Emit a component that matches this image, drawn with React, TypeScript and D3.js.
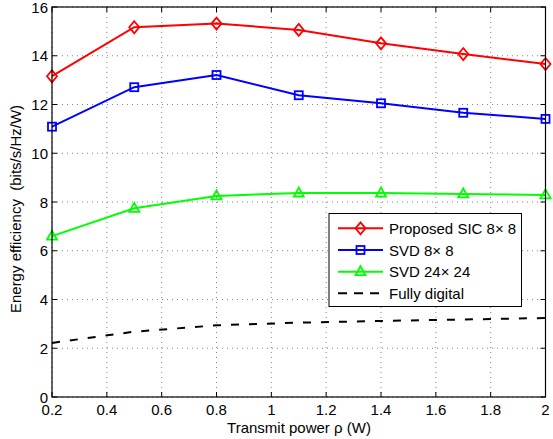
import React from "react";
import * as d3 from "d3";

const xValues = [0.2, 0.5, 0.8, 1.1, 1.4, 1.7, 2.0];
const proposedSIC = [13.16, 15.17, 15.32, 15.06, 14.51, 14.07, 13.66];
const svd8 = [11.09, 12.71, 13.21, 12.38, 12.05, 11.66, 11.41];
const svd24 = [6.6, 7.74, 8.25, 8.37, 8.37, 8.33, 8.29];
const fullyDigital = [2.22, 2.68, 2.94, 3.05, 3.12, 3.18, 3.24];
const xTicks = [0.2, 0.4, 0.6, 0.8, 1, 1.2, 1.4, 1.6, 1.8, 2];
const yTicks = [0, 2, 4, 6, 8, 10, 12, 14, 16];
const legendLabels = ["Proposed SIC 8\u00d7 8", "SVD 8\u00d7 8", "SVD 24\u00d7 24", "Fully digital"];

const W = 553, H = 439;
const L = 52, R = 545.5, T = 7, B = 397;
const FONT = "Liberation Sans, Arial, sans-serif";

function Marker({ kind, x, y, color }: { kind: string; x: number; y: number; color: string }) {
  if (kind === "diamond") {
    const w = 5, h = 6;
    return <path d={`M${x},${y - h}L${x + w},${y}L${x},${y + h}L${x - w},${y}Z`} fill="none" stroke={color} strokeWidth={1.8} />;
  }
  if (kind === "square") {
    const s = 4;
    return <rect x={x - s} y={y - s} width={2 * s} height={2 * s} fill="none" stroke={color} strokeWidth={1.8} />;
  }
  if (kind === "triangle") {
    const s = 5;
    return <path d={`M${x},${y - s - 0.5}L${x + s},${y + s * 0.7}L${x - s},${y + s * 0.7}Z`} fill="none" stroke={color} strokeWidth={1.8} />;
  }
  return null;
}

export default function App() {
  const x = d3.scaleLinear().domain([0.2, 2]).range([L, R]);
  const y = d3.scaleLinear().domain([0, 16]).range([B, T]);
  const line = d3.line<number>().x((_, i) => x(xValues[i])).y((d) => y(d));

  const series = [
    { data: proposedSIC, color: "#ff0000", marker: "diamond", dash: undefined },
    { data: svd8, color: "#0000ff", marker: "square", dash: undefined },
    { data: svd24, color: "#00ff00", marker: "triangle", dash: undefined },
    { data: fullyDigital, color: "#000000", marker: "none", dash: "8,10" },
  ];

  const legX = 329, legY = 213.5, legW = 192.5, legH = 93;
  const legRows = [228.3, 250, 271.7, 293.3];

  return (
    <svg width={W} height={H} style={{ position: "absolute", left: 0, top: 0, background: "#fff" }} fontFamily={FONT}>
      <rect x={0} y={0} width={W} height={H} fill="#fff" />
      {/* grid */}
      {xTicks.map((t) => (
        <line key={"gx" + t} x1={x(t)} x2={x(t)} y1={T} y2={B} stroke="#666" strokeWidth={0.8} strokeDasharray="1,4" />
      ))}
      {yTicks.map((t) => (
        <line key={"gy" + t} x1={L} x2={R} y1={y(t)} y2={y(t)} stroke="#666" strokeWidth={0.8} strokeDasharray="1,4" />
      ))}
      {/* ticks */}
      {xTicks.map((t) => (
        <g key={"tx" + t}>
          <line x1={x(t)} x2={x(t)} y1={B} y2={B - 5} stroke="#000" />
          <line x1={x(t)} x2={x(t)} y1={T} y2={T + 5} stroke="#000" />
          <text x={x(t)} y={B + 18} textAnchor="middle" fontSize={15} fill="#000">{t}</text>
        </g>
      ))}
      {yTicks.map((t) => (
        <g key={"ty" + t}>
          <line x1={L} x2={L + 5} y1={y(t)} y2={y(t)} stroke="#000" />
          <line x1={R} x2={R - 5} y1={y(t)} y2={y(t)} stroke="#000" />
          <text x={L - 4} y={y(t) + 5.5} textAnchor="end" fontSize={15} fill="#000">{t}</text>
        </g>
      ))}
      {/* series */}
      {series.map((s, si) => (
        <g key={"s" + si}>
          <path d={line(s.data) || ""} fill="none" stroke={s.color} strokeWidth={2} strokeDasharray={s.dash} />
          {s.data.map((v, i) => (
            <Marker key={i} kind={s.marker} x={x(xValues[i])} y={y(v)} color={s.color} />
          ))}
        </g>
      ))}
      {/* axes box */}
      <rect x={L} y={T} width={R - L} height={B - T} fill="none" stroke="#000" strokeWidth={1.2} />
      {/* legend */}
      <rect x={legX} y={legY} width={legW} height={legH} fill="#fff" stroke="#000" strokeWidth={1} />
      {series.map((s, i) => (
        <g key={"l" + i}>
          <line x1={338} x2={383} y1={legRows[i]} y2={legRows[i]} stroke={s.color} strokeWidth={2} strokeDasharray={s.dash ? "9,7" : undefined} />
          <Marker kind={s.marker} x={360.5} y={legRows[i]} color={s.color} />
          <text x={389} y={legRows[i] + 5.5} fontSize={15} fill="#000">{legendLabels[i]}</text>
        </g>
      ))}
      {/* axis labels */}
      <text x={299} y={433} textAnchor="middle" fontSize={15} fill="#000">Transmit power {"\u03c1"} (W)</text>
      <text transform={`translate(21,209) rotate(-90)`} textAnchor="middle" fontSize={15} fill="#000" style={{ whiteSpace: "pre" }}>Energy efficiency  (bits/s/Hz/W)</text>
    </svg>
  );
}
